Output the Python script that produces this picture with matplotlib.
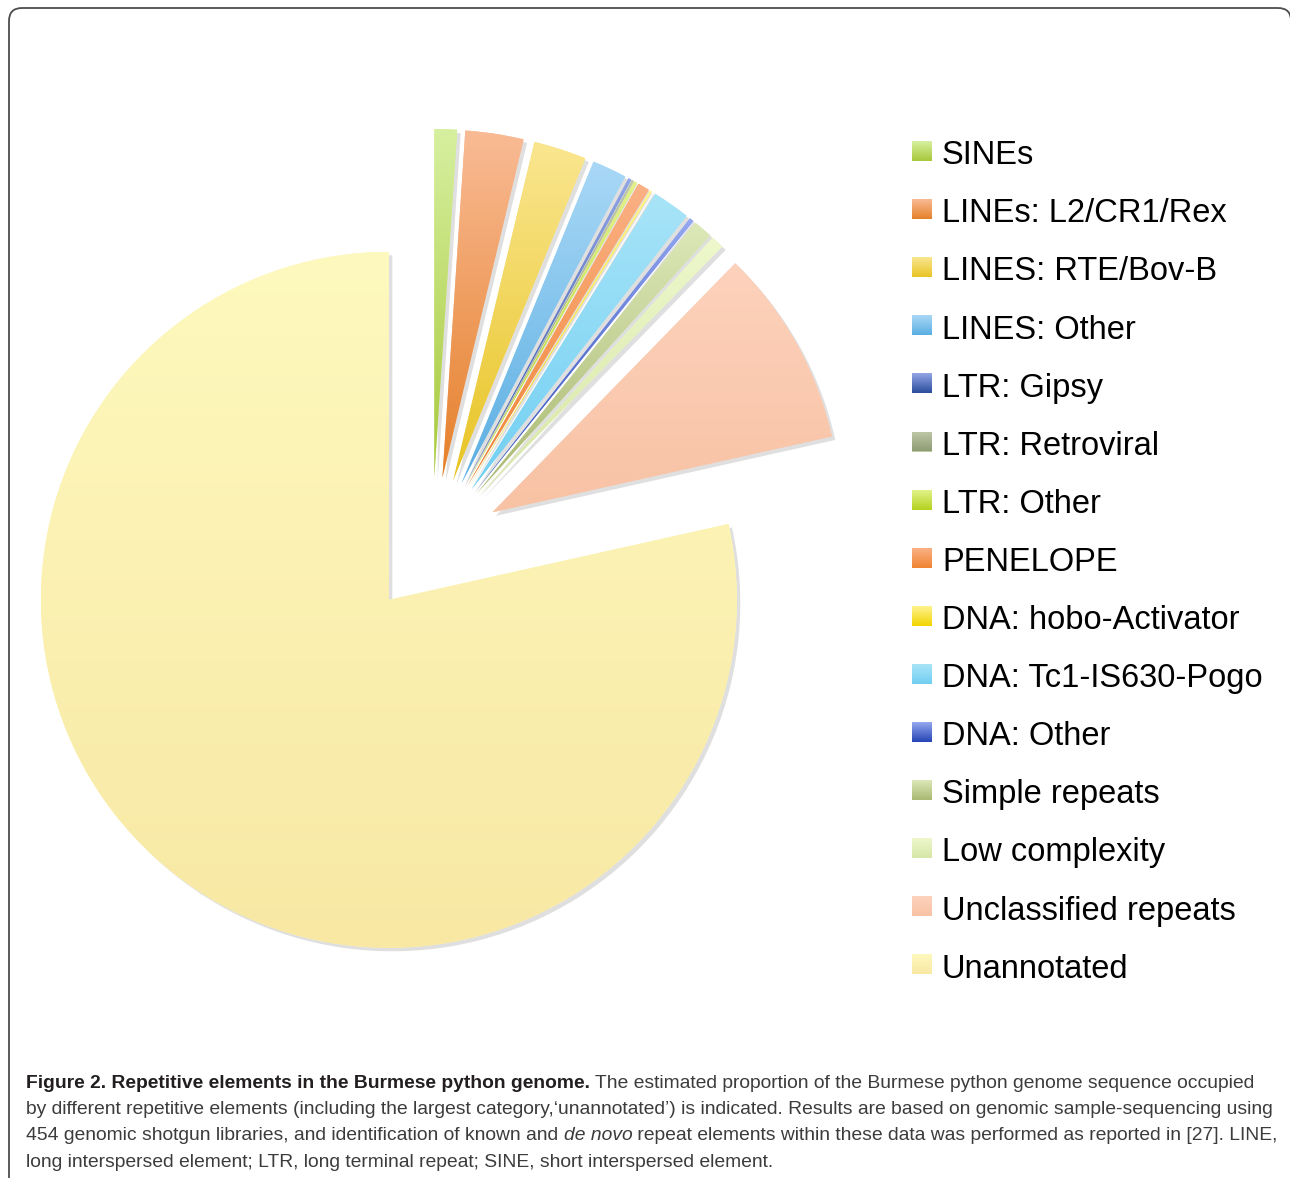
import numpy as np
import matplotlib
matplotlib.use("Agg")
import matplotlib.pyplot as plt
import matplotlib.patheffects as pe
from matplotlib.colors import to_rgb
from matplotlib.patches import FancyBboxPatch, Rectangle

W, H = 1290, 1178

# data: share of genome (%) per repeat class
labels = ["SINEs", "LINEs: L2/CR1/Rex", "LINES: RTE/Bov-B", "LINES: Other",
          "LTR: Gipsy", "LTR: Retroviral", "LTR: Other", "PENELOPE",
          "DNA: hobo-Activator", "DNA: Tc1-IS630-Pogo", "DNA: Other",
          "Simple repeats", "Low complexity", "Unclassified repeats", "Unannotated"]
shares = [1.05, 2.7, 2.45, 1.6,
          0.15, 0.1, 0.15, 0.55,
          0.1, 1.75, 0.2,
          0.9, 0.6, 9.2, 78.5]

# gradient colours (top -> bottom) for each slice / swatch
top_colors = ["#d6f0a0", "#f9bb95", "#fae690", "#a9d8f6",
              "#93a6e6", "#c0c8aa", "#e2f28a", "#fab185",
              "#fff390", "#a8e4f8", "#95a8f0",
              "#dde8b8", "#eef8cc", "#fdd2bc", "#fef9be"]
bottom_colors = ["#a8c83a", "#e5802a", "#e8c424", "#5aaee2",
                 "#2a4c9c", "#8e9c74", "#b4d21e", "#f08432",
                 "#f2d400", "#72cff2", "#2444b4",
                 "#a9b872", "#d6e6a6", "#f8c2a4", "#f8e8a4"]

caption_lines = [
    [("Figure 2. Repetitive elements in the Burmese python genome.", "bold", "normal"),
     (" The estimated proportion of the Burmese python genome sequence occupied", "normal", "normal")],
    [("by different repetitive elements (including the largest category,\u2018unannotated\u2019) is indicated. "
      "Results are based on genomic sample-sequencing using", "normal", "normal")],
    [("454 genomic shotgun libraries, and identification of known and ", "normal", "normal"),
     ("de novo", "normal", "italic"),
     (" repeat elements within these data was performed as reported in [27]. LINE,", "normal", "normal")],
    [("long interspersed element; LTR, long terminal repeat; SINE, short interspersed element.", "normal", "normal")],
]

PIE_CENTER = (432, H - 546)
PIE_RADIUS = 348
EXPLODE = 69

fig = plt.figure(figsize=(W / 100, H / 100), dpi=100)
ax = fig.add_axes([0, 0, 1, 1])


def gradient_fill(patch, c_top, c_bot):
    bb = patch.get_path().get_extents(patch.get_patch_transform())
    t = np.linspace(0, 1, 256)[:, None, None]
    img = (1 - t) * np.array(to_rgb(c_top)) + t * np.array(to_rgb(c_bot))
    im = ax.imshow(img, extent=(bb.x0, bb.x1, bb.y0, bb.y1), origin="upper",
                   interpolation="bilinear", zorder=patch.get_zorder() + 0.1)
    im.set_clip_path(patch)


wedges, _ = ax.pie(shares, explode=[EXPLODE] * len(shares), startangle=90,
                   counterclock=False, radius=PIE_RADIUS, center=PIE_CENTER,
                   colors=top_colors, wedgeprops=dict(linewidth=0))

for w, ct, cb in zip(wedges, top_colors, bottom_colors):
    w.set_path_effects([pe.SimplePatchShadow(offset=(2.5, -2.5), shadow_rgbFace="0.5", alpha=0.25),
                        pe.Normal()])
    gradient_fill(w, ct, cb)

# legend drawn by hand
row_step = 58.1
for i, lab in enumerate(labels):
    yc = H - (151 + row_step * i)
    sw = Rectangle((912, yc - 10), 20, 20, linewidth=0, facecolor=top_colors[i], zorder=3)
    ax.add_patch(sw)
    gradient_fill(sw, top_colors[i], bottom_colors[i])
    ax.text(942, H - (164.3 + row_step * i), lab, fontsize=23.5, va="baseline",
            family=["Liberation Sans", "DejaVu Sans"], color="black")

# caption with mixed styles
renderer = fig.canvas.get_renderer()
cap_family = ["Liberation Sans", "DejaVu Sans"]
baselines = [1088, 1114, 1140, 1167]
for runs, yb in zip(caption_lines, baselines):
    x = 26
    for txt, weight, style in runs:
        col = "#231f20" if weight == "bold" else "#3c3c3c"
        t = ax.text(x, H - yb, txt, fontsize=13.85, fontweight=weight, fontstyle=style,
                    family=cap_family, color=col, va="baseline", ha="left")
        x += t.get_window_extent(renderer).width

border = FancyBboxPatch((9, -60), 1282, H - 8 + 60, boxstyle="round,pad=0,rounding_size=13",
                        fill=False, edgecolor="#4d4d4d", linewidth=1.3, zorder=5)
ax.add_patch(border)

ax.set_xlim(0, W)
ax.set_ylim(0, H)
ax.set_aspect("equal")
ax.set_axis_off()

fig.savefig("out.png", dpi=100)
